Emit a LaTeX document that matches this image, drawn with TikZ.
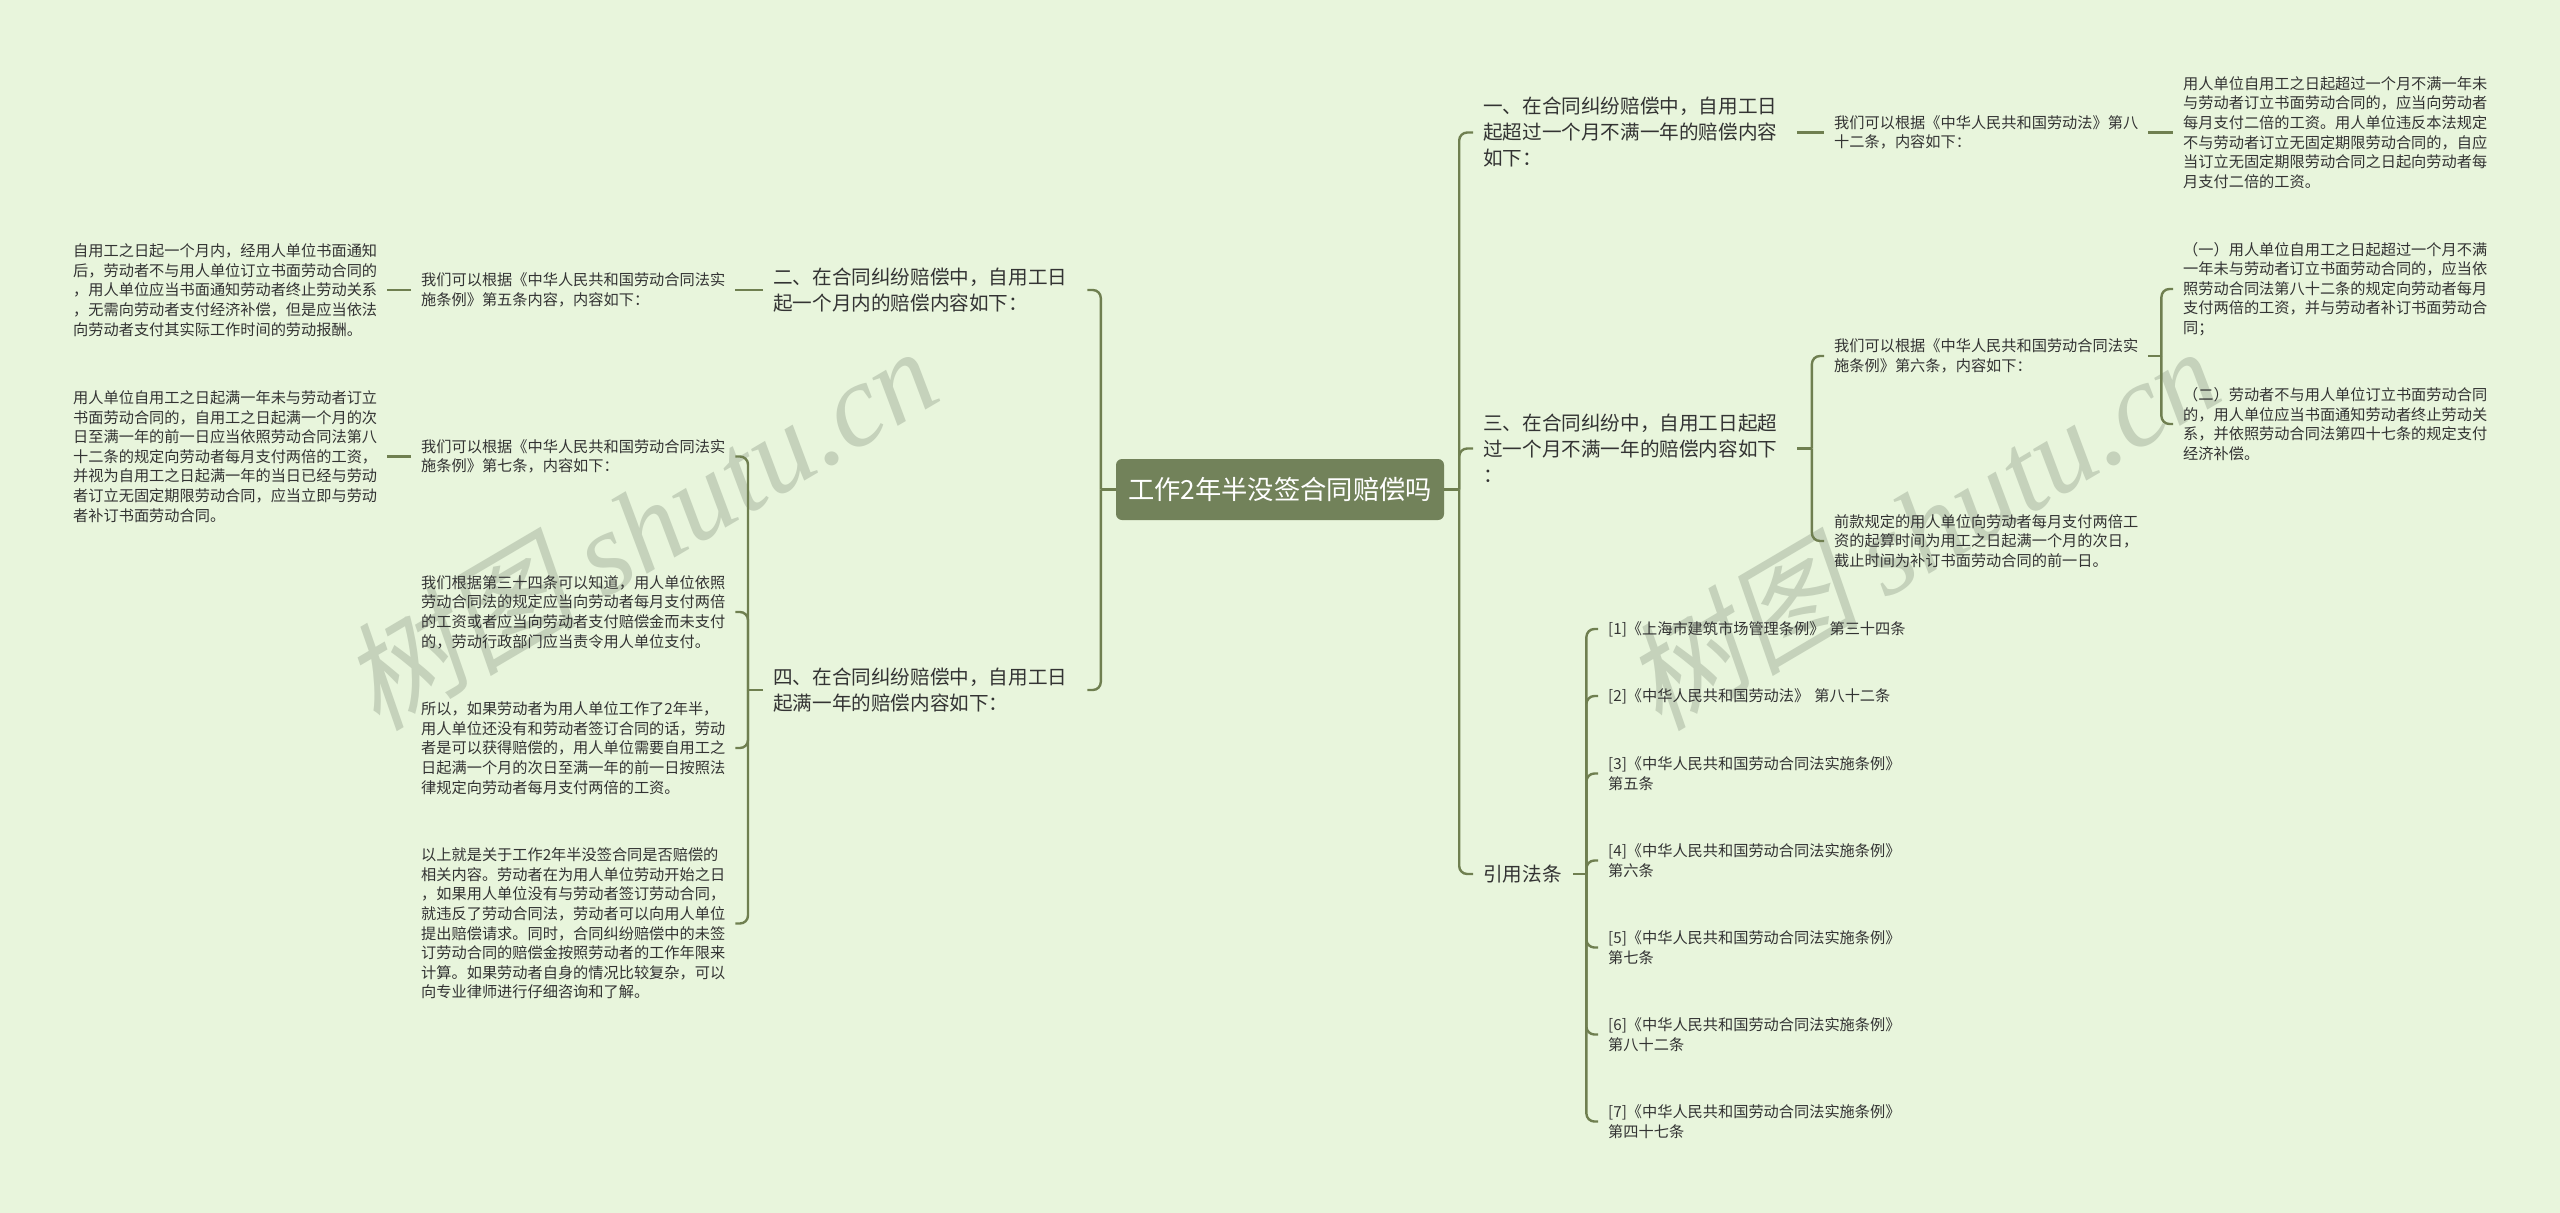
\documentclass[tikz,border=0pt]{standalone}
\usepackage{fontspec}
\setmainfont{Noto Sans CJK SC}
\newfontfamily\markcjk[FakeSlant=0.2]{Noto Sans CJK SC}
\newfontfamily\marklatin{Liberation Serif}
\usetikzlibrary{calc}
\definecolor{bgcol}{HTML}{E8F5DC}
\definecolor{linecol}{HTML}{6F7F50}
\definecolor{rootcol}{HTML}{72825A}
\definecolor{inkcol}{HTML}{333333}
\definecolor{markcol}{HTML}{C5D2BB}

\tikzset{
	rootbox/.style={fill=rootcol, rounded corners=6pt, text=white, minimum width=328pt, minimum height=61pt, inner sep=0pt, font=\fontsize{26.3}{32}\selectfont},
	branch/.style={anchor=west, align=left, text=inkcol, inner xsep=10pt, inner ysep=0pt, text width=304pt, font=\fontsize{19.6}{26}\selectfont},
	leaf/.style={anchor=west, align=left, text=inkcol, inner xsep=10pt, inner ysep=0pt, text width=304pt, font=\fontsize{15.2}{19.6}\selectfont},
	link/.style={draw=linecol, line width=2.4pt},
	bendlink/.style={link, rounded corners=8pt},
	stamp/.style={text=markcol, rotate=30.5, font=\fontsize{118}{124}\selectfont}
}

\begin{document}
\begin{tikzpicture}[x=1pt, y=-1pt]
	\fill[bgcol] (0,0) rectangle (2560,1213);
	\useasboundingbox (0,0) rectangle (2560,1213);
	% watermarks
	\node[stamp] (markl) at (639,527) {{\markcjk 树图} {\marklatin\itshape shutu.cn}};
	\node[stamp] (markr) at (1921,527) {{\markcjk 树图} {\marklatin\itshape shutu.cn}};

	\node[rootbox] (root) at (1280,489.5) {工作2年半没签合同赔偿吗};

	% right side
	\node[branch] (one) at (1473,132.5) {一、在合同纠纷赔偿中，自用工日\\起超过一个月不满一年的赔偿内容\\如下：};
	\node[branch] (three) at (1473,448.5) {三、在合同纠纷中，自用工日起超\\过一个月不满一年的赔偿内容如下\\：};
	\node[branch, text width=80pt] (cite) at (1473,874) {引用法条};
	\node[leaf] (oneA) at (1824,132.5) {我们可以根据《中华人民共和国劳动法》第八\\十二条，内容如下：};
	\node[leaf] (oneB) at (2173,132.5) {用人单位自用工之日起超过一个月不满一年未\\与劳动者订立书面劳动合同的，应当向劳动者\\每月支付二倍的工资。用人单位违反本法规定\\不与劳动者订立无固定期限劳动合同的，自应\\当订立无固定期限劳动合同之日起向劳动者每\\月支付二倍的工资。};
	\node[leaf] (threeA) at (1824,356) {我们可以根据《中华人民共和国劳动合同法实\\施条例》第六条，内容如下：};
	\node[leaf] (threeB) at (1824,541) {前款规定的用人单位向劳动者每月支付两倍工\\资的起算时间为用工之日起满一个月的次日，\\截止时间为补订书面劳动合同的前一日。};
	\node[leaf] (sixA) at (2173,289) {（一）用人单位自用工之日起超过一个月不满\\一年未与劳动者订立书面劳动合同的，应当依\\照劳动合同法第八十二条的规定向劳动者每月\\支付两倍的工资，并与劳动者补订书面劳动合\\同；};
	\node[leaf] (sixB) at (2173,424) {（二）劳动者不与用人单位订立书面劳动合同\\的，用人单位应当书面通知劳动者终止劳动关\\系，并依照劳动合同法第四十七条的规定支付\\经济补偿。};
	\node[leaf] (citeA) at (1598,629) {[1]《上海市建筑市场管理条例》 第三十四条};
	\node[leaf] (citeB) at (1598,696) {[2]《中华人民共和国劳动法》 第八十二条};
	\node[leaf] (citeC) at (1598,773.5) {[3]《中华人民共和国劳动合同法实施条例》\\第五条};
	\node[leaf] (citeD) at (1598,860.5) {[4]《中华人民共和国劳动合同法实施条例》\\第六条};
	\node[leaf] (citeE) at (1598,947.5) {[5]《中华人民共和国劳动合同法实施条例》\\第七条};
	\node[leaf] (citeF) at (1598,1034.5) {[6]《中华人民共和国劳动合同法实施条例》\\第八十二条};
	\node[leaf] (citeG) at (1598,1121.5) {[7]《中华人民共和国劳动合同法实施条例》\\第四十七条};

	% left side
	\node[branch] (two) at (763,290) {二、在合同纠纷赔偿中，自用工日\\起一个月内的赔偿内容如下：};
	\node[branch] (four) at (763,690) {四、在合同纠纷赔偿中，自用工日\\起满一年的赔偿内容如下：};
	\node[leaf] (twoA) at (411,290) {我们可以根据《中华人民共和国劳动合同法实\\施条例》第五条内容，内容如下：};
	\node[leaf] (twoB) at (63,290) {自用工之日起一个月内，经用人单位书面通知\\后，劳动者不与用人单位订立书面劳动合同的\\，用人单位应当书面通知劳动者终止劳动关系\\，无需向劳动者支付经济补偿，但是应当依法\\向劳动者支付其实际工作时间的劳动报酬。};
	\node[leaf] (fourA) at (411,456.5) {我们可以根据《中华人民共和国劳动合同法实\\施条例》第七条，内容如下：};
	\node[leaf] (fourAA) at (63,456.5) {用人单位自用工之日起满一年未与劳动者订立\\书面劳动合同的，自用工之日起满一个月的次\\日至满一年的前一日应当依照劳动合同法第八\\十二条的规定向劳动者每月支付两倍的工资，\\并视为自用工之日起满一年的当日已经与劳动\\者订立无固定期限劳动合同，应当立即与劳动\\者补订书面劳动合同。};
	\node[leaf] (fourB) at (411,612) {我们根据第三十四条可以知道，用人单位依照\\劳动合同法的规定应当向劳动者每月支付两倍\\的工资或者应当向劳动者支付赔偿金而未支付\\的，劳动行政部门应当责令用人单位支付。};
	\node[leaf] (fourC) at (411,748) {所以，如果劳动者为用人单位工作了2年半，\\用人单位还没有和劳动者签订合同的话，劳动\\者是可以获得赔偿的，用人单位需要自用工之\\日起满一个月的次日至满一年的前一日按照法\\律规定向劳动者每月支付两倍的工资。};
	\node[leaf] (fourD) at (411,923.5) {以上就是关于工作2年半没签合同是否赔偿的\\相关内容。劳动者在为用人单位劳动开始之日\\，如果用人单位没有与劳动者签订劳动合同，\\就违反了劳动合同法，劳动者可以向用人单位\\提出赔偿请求。同时，合同纠纷赔偿中的未签\\订劳动合同的赔偿金按照劳动者的工作年限来\\计算。如果劳动者自身的情况比较复杂，可以\\向专业律师进行仔细咨询和了解。};

	% spines
	\coordinate (rootR) at ($(root.east)+(15,0)$);
	\coordinate (rootL) at ($(root.west)+(-15,0)$);
	\coordinate (threeS) at ($(three.east)+(14.5,0)$);
	\coordinate (citeS) at ($(cite.east)+(13,0)$);
	\coordinate (sixS) at ($(threeA.east)+(13,0)$);
	\coordinate (fourS) at ($(four.west)+(-15,0)$);

	\draw[link] (root.east) -- (rootR);
	\draw[link] (root.west) -- (rootL);
	\draw[bendlink] (rootR) |- (one.west);
	\draw[bendlink] (rootR) |- (three.west);
	\draw[bendlink] (rootR) |- (cite.west);
	\draw[bendlink] (rootL) |- (two.east);
	\draw[bendlink] (rootL) |- (four.east);

	\draw[link] (one.east) -- (oneA.west);
	\draw[link] (oneA.east) -- (oneB.west);

	\draw[link] (three.east) -- (threeS);
	\draw[bendlink] (threeS) |- (threeA.west);
	\draw[bendlink] (threeS) |- (threeB.west);
	\draw[link] (threeA.east) -- (sixS);
	\draw[bendlink] (sixS) |- (sixA.west);
	\draw[bendlink] (sixS) |- (sixB.west);

	\draw[link] (cite.east) -- (citeS);
	\draw[bendlink] (citeS) |- (citeA.west);
	\draw[bendlink] (citeS) |- (citeB.west);
	\draw[bendlink] (citeS) |- (citeC.west);
	\draw[bendlink] (citeS) |- (citeD.west);
	\draw[bendlink] (citeS) |- (citeE.west);
	\draw[bendlink] (citeS) |- (citeF.west);
	\draw[bendlink] (citeS) |- (citeG.west);

	\draw[link] (two.west) -- (twoA.east);
	\draw[link] (twoA.west) -- (twoB.east);

	\draw[link] (four.west) -- (fourS);
	\draw[bendlink] (fourS) |- (fourA.east);
	\draw[bendlink] (fourS) |- (fourB.east);
	\draw[bendlink] (fourS) |- (fourC.east);
	\draw[bendlink] (fourS) |- (fourD.east);
	\draw[link] (fourA.west) -- (fourAA.east);
\end{tikzpicture}
\end{document}
